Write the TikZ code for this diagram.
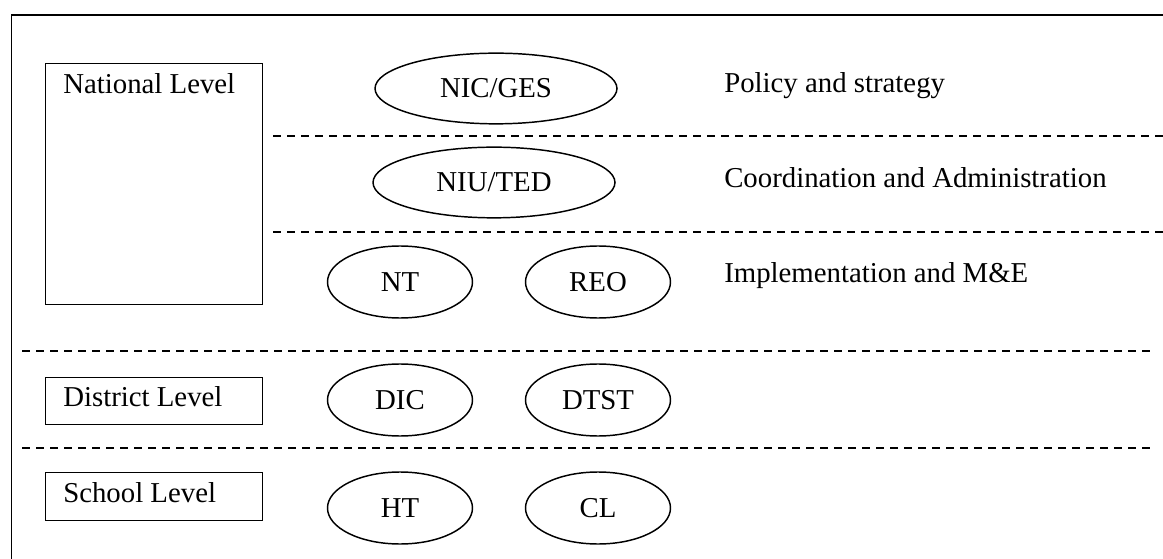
\documentclass[tikz,border=0pt]{standalone}
\usepackage{fontspec}
\setmainfont{Liberation Serif}
\usetikzlibrary{shapes.geometric}
\tikzset{
  lbl/.style={font=\fontsize{21.6pt}{26pt}\selectfont, inner sep=0pt},
  unit/.style={draw, ellipse, line width=1.1pt, inner sep=0pt,
    minimum width=108.75pt, minimum height=54pt,
    font=\fontsize{21.6pt}{26pt}\selectfont},
  wideunit/.style={unit, minimum width=181.5pt, minimum height=53pt},
  levelbox/.style={draw, rectangle, line width=1.1pt, inner sep=0pt,
    anchor=north west, minimum width=162.75pt},
  divider/.style={dashed, dash pattern=on 6pt off 4.5pt, line width=1.1pt},
}
\begin{document}
\begin{tikzpicture}[x=0.75pt,y=-0.75pt]
\useasboundingbox (0,0) rectangle (1163,559);
\clip (0,0) rectangle (1163,559);
% outer frame
\draw[line width=1.1pt] (11.5,15) rectangle (1180,580);

% level boxes
\node[levelbox, minimum height=180.75pt] (natbox) at (45,63) {};
\node[levelbox, minimum height=35.25pt] (disbox) at (45,377) {};
\node[levelbox, minimum height=36pt] (schbox) at (45,472) {};
\node[lbl, anchor=base west] (natlbl) at (63,94) {National Level};
\node[lbl, anchor=base west] (dislbl) at (63,406) {District Level};
\node[lbl, anchor=base west] (schlbl) at (63,502) {School Level};

% dividers
\coordinate (d1a) at (273,136); \coordinate (d1b) at (1170,136);
\coordinate (d2a) at (273,232); \coordinate (d2b) at (1170,232);
\coordinate (d3a) at (22,351);  \coordinate (d3b) at (1150,351);
\coordinate (d4a) at (22,448);  \coordinate (d4b) at (1150,448);
\draw[divider] (d1a) -- (d1b);
\draw[divider] (d2a) -- (d2b);
\draw[divider] (d3a) -- (d3b);
\draw[divider] (d4a) -- (d4b);

% bodies
\node[wideunit] (nic) at (496,88.5) {NIC/GES};
\node[wideunit] (niu) at (494,182.5) {NIU/TED};
\node[unit] (nt)   at (400,282) {NT};
\node[unit] (reo)  at (598,282) {REO};
\node[unit] (dic)  at (400,400) {DIC};
\node[unit] (dtst) at (598,400) {DTST};
\node[unit] (ht)   at (400,508) {HT};
\node[unit] (cl)   at (598,508) {CL};

% roles
\node[lbl, anchor=base west] (policy) at (724,93) {Policy and strategy};
\node[lbl, anchor=base west] (coord) at (724,188) {Coordination and Administration};
\node[lbl, anchor=base west] (impl) at (724,283) {Implementation and M\&E};
\end{tikzpicture}
\end{document}
